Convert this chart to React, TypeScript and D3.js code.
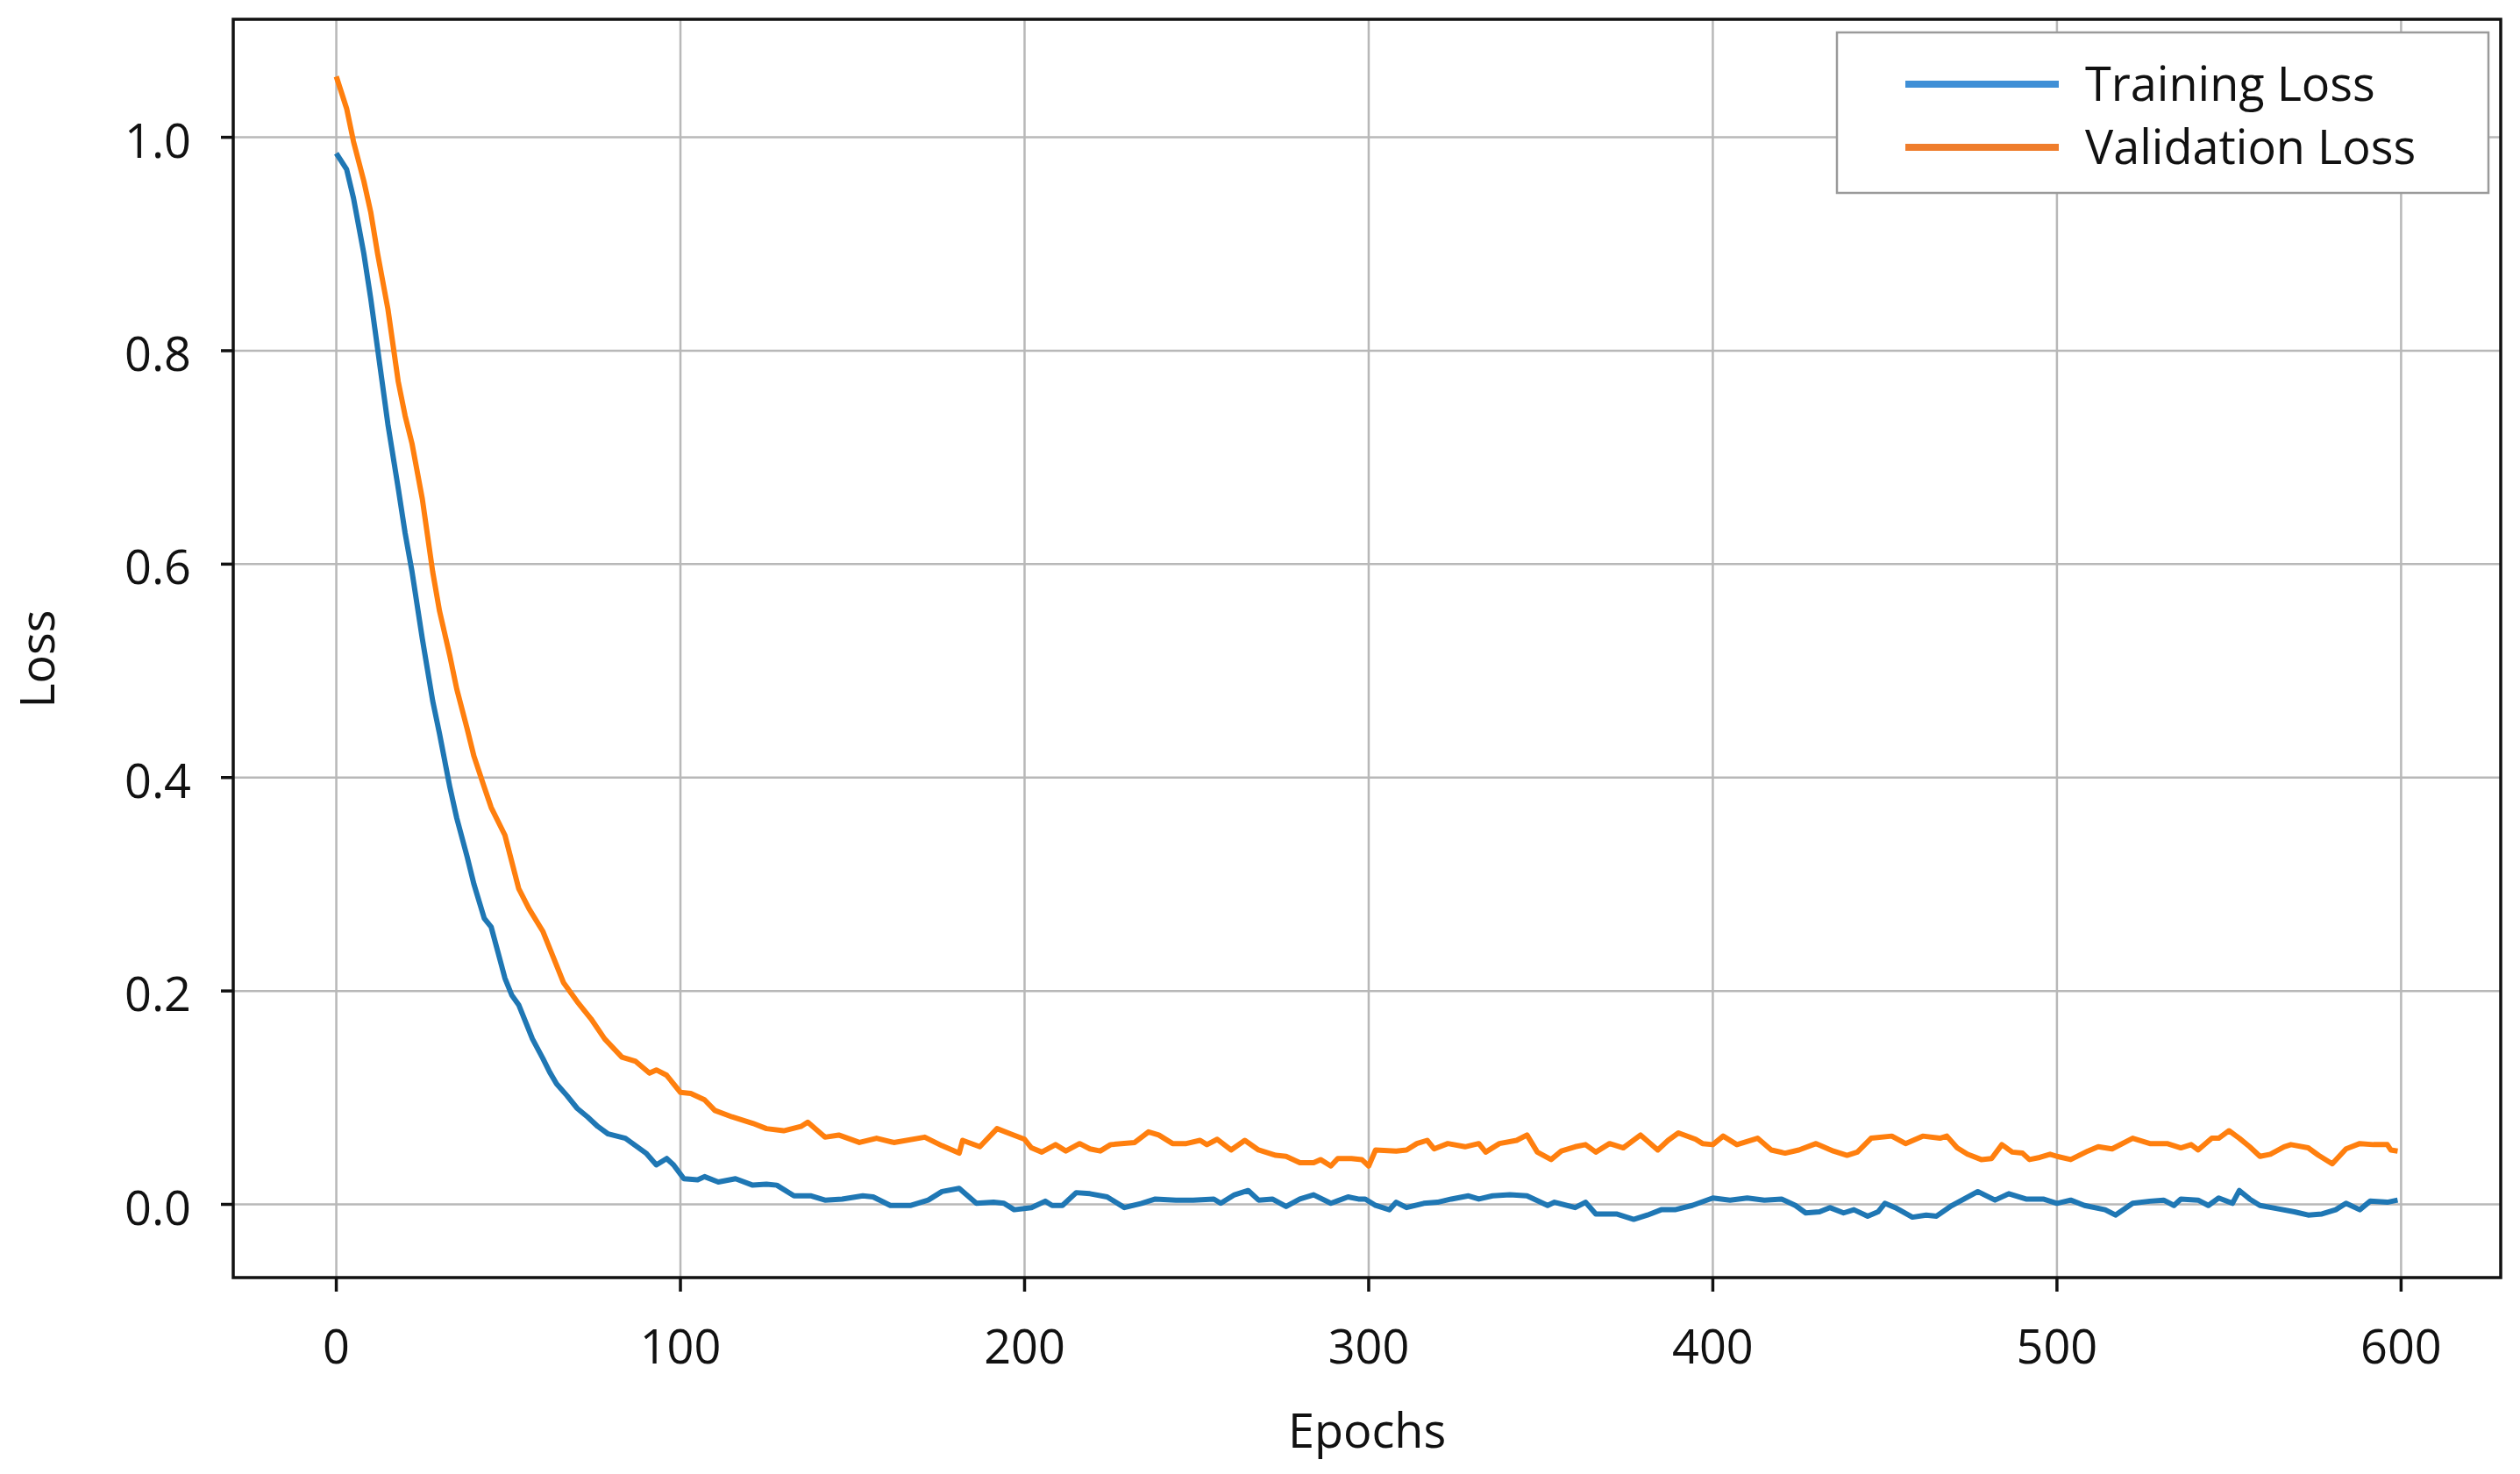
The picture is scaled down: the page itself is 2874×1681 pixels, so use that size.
import React from 'react';
import { scaleLinear, line, format } from 'd3';

// values (epoch, loss)
const trainEpochs = [0, 3, 5, 8, 10, 12, 15, 18, 20, 22, 25, 28, 30, 33, 35, 38, 40, 43, 45, 47, 49, 51, 53, 55, 57, 60, 62, 64, 67, 70, 73, 76, 79, 84, 87, 90, 93, 96, 98, 101, 105, 107, 111, 116, 121, 125, 128, 133, 138, 142, 147, 153, 156, 161, 167, 172, 176, 181, 186, 191, 194, 197, 202, 206, 208, 211, 215, 219, 224, 229, 234, 238, 244, 249, 255, 257, 261, 265, 268, 272, 276, 280, 284, 289, 294, 297, 299, 302, 306, 308, 311, 316, 320, 324, 329, 332, 336, 341, 346, 352, 354, 360, 363, 366, 372, 377, 381, 385, 389, 394, 400, 405, 410, 415, 420, 424, 427, 431, 434, 438, 441, 445, 448, 450, 453, 458, 462, 465, 469, 473, 477, 482, 486, 491, 496, 500, 504, 508, 514, 517, 522, 527, 531, 534, 536, 541, 544, 547, 551, 553, 556, 559, 564, 569, 573, 577, 581, 584, 588, 591, 596, 599];
const trainLoss = [0.985, 0.97, 0.943, 0.891, 0.849, 0.802, 0.731, 0.671, 0.629, 0.593, 0.53, 0.472, 0.441, 0.391, 0.362, 0.326, 0.3, 0.268, 0.26, 0.236, 0.212, 0.196, 0.187, 0.171, 0.155, 0.137, 0.124, 0.113, 0.102, 0.09, 0.082, 0.073, 0.066, 0.062, 0.055, 0.048, 0.037, 0.043, 0.037, 0.024, 0.023, 0.026, 0.021, 0.024, 0.018, 0.019, 0.018, 0.008, 0.008, 0.004, 0.005, 0.008, 0.007, -0.001, -0.001, 0.004, 0.012, 0.015, 0.001, 0.002, 0.001, -0.005, -0.003, 0.003, -0.001, -0.001, 0.011, 0.01, 0.007, -0.003, 0.001, 0.005, 0.004, 0.004, 0.005, 0.001, 0.009, 0.013, 0.004, 0.005, -0.002, 0.005, 0.009, 0.001, 0.007, 0.005, 0.005, -0.001, -0.005, 0.002, -0.003, 0.001, 0.002, 0.005, 0.008, 0.005, 0.008, 0.009, 0.008, -0.001, 0.002, -0.003, 0.002, -0.009, -0.009, -0.014, -0.01, -0.005, -0.005, -0.001, 0.006, 0.004, 0.006, 0.004, 0.005, -0.001, -0.008, -0.007, -0.003, -0.008, -0.005, -0.011, -0.007, 0.001, -0.003, -0.012, -0.01, -0.011, -0.002, 0.005, 0.012, 0.004, 0.01, 0.005, 0.005, 0.001, 0.004, -0.001, -0.005, -0.01, 0.001, 0.003, 0.004, -0.001, 0.005, 0.004, -0.001, 0.006, 0.001, 0.013, 0.005, -0.001, -0.004, -0.007, -0.01, -0.009, -0.005, 0.001, -0.005, 0.003, 0.002, 0.004];

const valEpochs = [0, 3, 5, 8, 10, 12, 15, 18, 20, 22, 25, 28, 30, 33, 35, 38, 40, 43, 45, 49, 53, 56, 60, 62, 66, 70, 74, 78, 83, 87, 91, 93, 96, 100, 103, 107, 110, 115, 121, 125, 130, 135, 137, 142, 146, 152, 157, 162, 171, 176, 181, 182, 187, 192, 196, 200, 202, 205, 209, 212, 216, 219, 222, 225, 232, 236, 239, 243, 247, 251, 253, 256, 260, 264, 268, 273, 276, 280, 284, 286, 289, 291, 295, 298, 300, 302, 308, 311, 314, 317, 319, 323, 328, 332, 334, 338, 343, 346, 349, 353, 356, 360, 363, 366, 370, 374, 379, 384, 387, 390, 395, 397, 400, 403, 407, 413, 417, 421, 425, 430, 435, 439, 442, 446, 452, 456, 461, 466, 468, 471, 474, 478, 481, 484, 487, 490, 492, 495, 498, 500, 504, 509, 512, 516, 522, 527, 532, 536, 539, 541, 545, 547, 550, 553, 556, 559, 562, 566, 568, 573, 576, 580, 584, 588, 592, 596, 597, 599];
const valLoss = [1.057, 1.027, 0.996, 0.959, 0.93, 0.891, 0.839, 0.771, 0.739, 0.713, 0.661, 0.593, 0.556, 0.514, 0.483, 0.446, 0.42, 0.391, 0.372, 0.346, 0.296, 0.277, 0.256, 0.24, 0.208, 0.19, 0.174, 0.155, 0.138, 0.134, 0.123, 0.126, 0.121, 0.105, 0.104, 0.098, 0.088, 0.082, 0.076, 0.071, 0.069, 0.073, 0.077, 0.063, 0.065, 0.058, 0.062, 0.058, 0.063, 0.055, 0.048, 0.06, 0.054, 0.071, 0.066, 0.061, 0.053, 0.049, 0.056, 0.05, 0.057, 0.052, 0.05, 0.056, 0.058, 0.068, 0.065, 0.057, 0.057, 0.06, 0.056, 0.061, 0.051, 0.06, 0.051, 0.046, 0.045, 0.039, 0.039, 0.042, 0.036, 0.043, 0.043, 0.042, 0.036, 0.051, 0.05, 0.051, 0.057, 0.06, 0.052, 0.057, 0.054, 0.057, 0.049, 0.057, 0.06, 0.065, 0.049, 0.042, 0.05, 0.054, 0.056, 0.049, 0.057, 0.053, 0.065, 0.051, 0.06, 0.067, 0.061, 0.057, 0.056, 0.064, 0.056, 0.062, 0.051, 0.048, 0.051, 0.057, 0.05, 0.046, 0.049, 0.062, 0.064, 0.057, 0.064, 0.062, 0.064, 0.053, 0.047, 0.042, 0.043, 0.056, 0.049, 0.048, 0.042, 0.044, 0.047, 0.045, 0.042, 0.05, 0.054, 0.052, 0.062, 0.057, 0.057, 0.053, 0.056, 0.051, 0.062, 0.062, 0.069, 0.062, 0.054, 0.045, 0.047, 0.054, 0.056, 0.053, 0.046, 0.038, 0.052, 0.057, 0.056, 0.056, 0.051, 0.05];

const xTicks = [0, 100, 200, 300, 400, 500, 600];
const yTicks = [0, 0.2, 0.4, 0.6, 0.8, 1.0];
const seriesNames = ['Training Loss', 'Validation Loss'];

const W = 2874;
const H = 1681;
const frame = { left: 266, right: 2852, top: 22, bottom: 1457 };
const font = '"Open Sans", sans-serif';

const App: React.FC = () => {
  const x = scaleLinear().domain([-29.95, 628.95]).range([frame.left, frame.right]);
  const y = scaleLinear().domain([-0.0686, 1.1106]).range([frame.bottom, frame.top]);
  const fmt = format('.1f');

  const trainPts = trainEpochs.map((e, i) => [e, trainLoss[i]] as [number, number]);
  const valPts = valEpochs.map((e, i) => [e, valLoss[i]] as [number, number]);
  const path = line<[number, number]>()
    .x(d => x(d[0]))
    .y(d => y(d[1]));

  const legendColors = ['#3f8fd6', '#ef7d2c'];

  return (
    <svg
      width={W}
      height={H}
      style={{ position: 'absolute', left: 0, top: 0, background: '#fff' }}
      fontFamily={font}
    >
      <rect width={W} height={H} fill='#fff' />
      {/* grid */}
      <g stroke='#b8b8b8' strokeWidth={2.5}>
        {xTicks.map(t => (
          <line key={'gx' + t} x1={x(t)} x2={x(t)} y1={frame.top} y2={frame.bottom} />
        ))}
        {yTicks.map(t => (
          <line key={'gy' + t} x1={frame.left} x2={frame.right} y1={y(t)} y2={y(t)} />
        ))}
      </g>

      {/* curves */}
      <path d={path(trainPts) || ''} fill='none' stroke='#1f77b4' strokeWidth={6} strokeLinejoin='round' />
      <path d={path(valPts) || ''} fill='none' stroke='#ff7f0e' strokeWidth={6} strokeLinejoin='round' />

      {/* frame */}
      <rect
        x={frame.left}
        y={frame.top}
        width={frame.right - frame.left}
        height={frame.bottom - frame.top}
        fill='none'
        stroke='#111'
        strokeWidth={3.5}
      />

      {/* ticks + labels */}
      <g stroke='#111' strokeWidth={3.5}>
        {xTicks.map(t => (
          <line key={'tx' + t} x1={x(t)} x2={x(t)} y1={frame.bottom} y2={frame.bottom + 16} />
        ))}
        {yTicks.map(t => (
          <line key={'ty' + t} x1={frame.left - 14} x2={frame.left} y1={y(t)} y2={y(t)} />
        ))}
      </g>
      <g fontSize={54} fill='#111'>
        {xTicks.map(t => (
          <text key={'lx' + t} x={x(t)} y={1555} textAnchor='middle'>
            {t}
          </text>
        ))}
        {yTicks.map(t => (
          <text key={'ly' + t} x={218} y={y(t) + 23} textAnchor='end'>
            {fmt(t)}
          </text>
        ))}
      </g>

      {/* axis titles */}
      <text x={(frame.left + frame.right) / 2} y={1651} textAnchor='middle' fontSize={54} fill='#111'>
        Epochs
      </text>
      <text
        transform={`translate(62, ${(frame.top + frame.bottom) / 2 + 12}) rotate(-90)`}
        textAnchor='middle'
        fontSize={54}
        fill='#111'
      >
        Loss
      </text>

      {/* legend */}
      <g>
        <rect x={2095} y={37} width={743} height={183} fill='#fff' stroke='#9a9a9a' strokeWidth={2.5} />
        {seriesNames.map((name, i) => (
          <g key={name} transform={`translate(0, ${96 + i * 72})`}>
            <line x1={2173} x2={2348} y1={0} y2={0} stroke={legendColors[i]} strokeWidth={8} />
            <text x={2378} y={19} fontSize={54} fill='#111'>
              {name}
            </text>
          </g>
        ))}
      </g>
    </svg>
  );
};

export default App;
